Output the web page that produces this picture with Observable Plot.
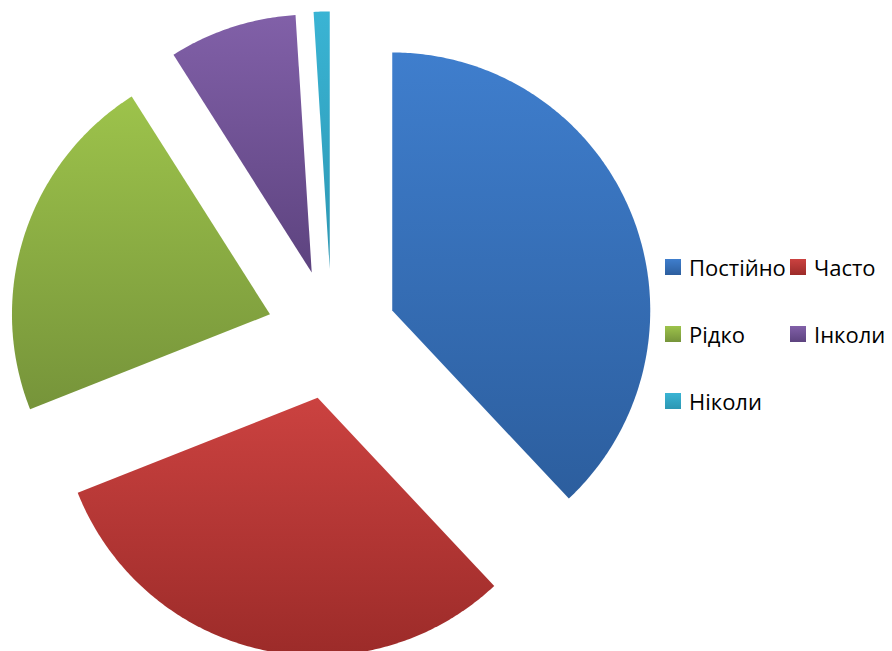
<!DOCTYPE html>
<html>
<head>
<meta charset="utf-8">
<script src="https://cdn.jsdelivr.net/npm/d3@7"></script>
<script src="https://cdn.jsdelivr.net/npm/@observablehq/plot@0.6"></script>
<style>
  html, body { margin: 0; padding: 0; background: #fff; }
  #wrap { position: relative; width: 892px; height: 651px; overflow: hidden; }
  #legend { position: absolute; left: 0; top: 0; width: 892px; height: 651px; pointer-events: none;
            font-family: "Open Sans", "Liberation Sans", sans-serif; font-size: 22px; color: #000; }
  .item { position: absolute; display: flex; align-items: center; white-space: nowrap; }
  .sw { width: 16px; height: 16px; margin-right: 8px; flex: none; }
</style>
</head>
<body>
<div id="wrap"><div id="legend"></div></div>
<script>
const categories = ["Постійно", "Часто", "Рідко", "Інколи", "Ніколи"];
const values = [38, 31, 22, 8, 1];
const topColors = ["#3F7ECD", "#CB4240", "#9DC34B", "#8160A8", "#3AB4D4"];
const bottomColors = ["#2C5E9E", "#9C2B29", "#76943A", "#5D437F", "#2C97B3"];

const W = 892, H = 651;
const R = 258;            // pie radius in px
const cx = 331.3, cy = 333.9; // pie centre in px
const explode = 65 / R;   // explosion offset in radius units

const arcs = d3.pie().sort(null).value(d => d)(values);

function slicePoints(a, i) {
  const m = (a.startAngle + a.endAngle) / 2;
  const ox = explode * Math.sin(m), oy = explode * Math.cos(m);
  const pts = [{x: ox, y: oy, i}];
  const n = Math.max(4, Math.ceil((a.endAngle - a.startAngle) / 0.01));
  for (let k = 0; k <= n; k++) {
    const t = a.startAngle + (a.endAngle - a.startAngle) * k / n;
    pts.push({x: ox + Math.sin(t), y: oy + Math.cos(t), i});
  }
  pts.push({x: ox, y: oy, i});
  return pts;
}

const defsMark = () => {
  const defs = d3.create("svg:defs");
  categories.forEach((c, i) => {
    const g = defs.append("linearGradient").attr("id", "grad" + i)
      .attr("x1", 0).attr("y1", 0).attr("x2", 0).attr("y2", 1);
    g.append("stop").attr("offset", "0%").attr("stop-color", topColors[i]);
    g.append("stop").attr("offset", "100%").attr("stop-color", bottomColors[i]);
  });
  return defs.node();
};

const sliceMarks = arcs.map((a, i) =>
  Plot.line(slicePoints(a, i), {x: "x", y: "y", fill: `url(#grad${i})`, stroke: "none", curve: "linear"})
);

const chart = Plot.plot({
  width: W,
  height: H,
  margin: 0,
  x: {domain: [-cx / R, (W - cx) / R], axis: null},
  y: {domain: [-(H - cy) / R, cy / R], axis: null},
  marks: [defsMark, ...sliceMarks]
});
document.getElementById("wrap").prepend(chart);

// legend
const legendPos = [[665, 259], [790, 259], [665, 326], [790, 326], [665, 393]];
const legend = document.getElementById("legend");
categories.forEach((c, i) => {
  const it = document.createElement("div");
  it.className = "item";
  it.style.left = legendPos[i][0] + "px";
  it.style.top = (legendPos[i][1] - 7) + "px";
  it.style.height = "30px";
  const sw = document.createElement("div");
  sw.className = "sw";
  sw.style.background = `linear-gradient(${topColors[i]}, ${bottomColors[i]})`;
  const tx = document.createElement("span");
  tx.textContent = c;
  it.appendChild(sw); it.appendChild(tx);
  legend.appendChild(it);
});
</script>
</body>
</html>
